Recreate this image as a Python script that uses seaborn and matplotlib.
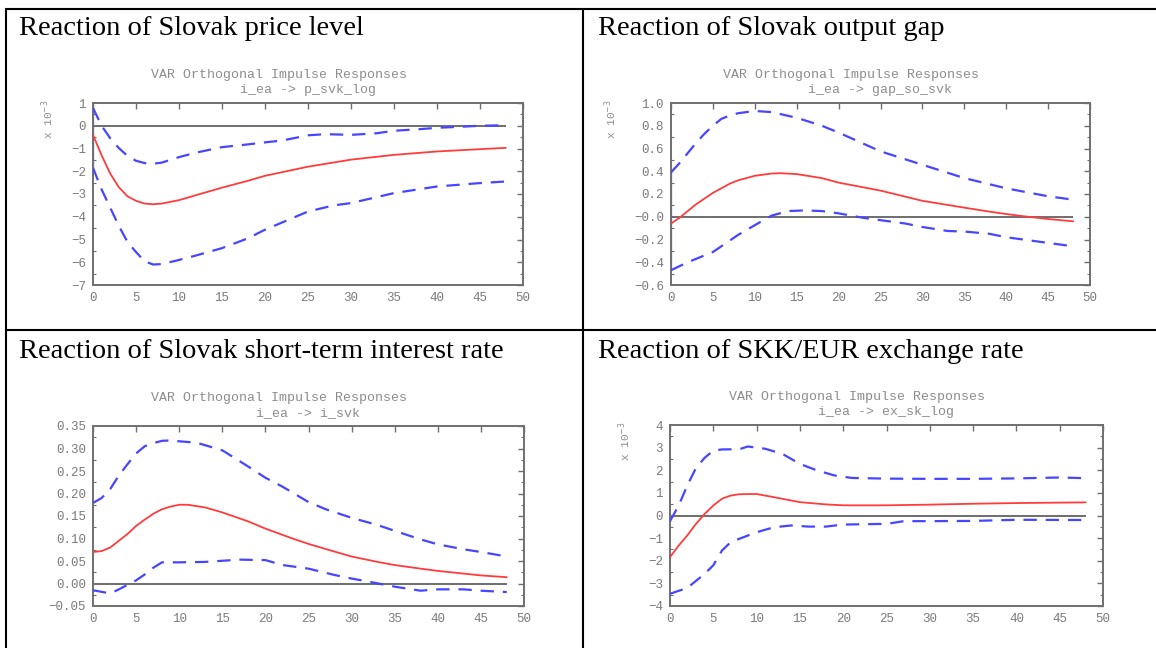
import matplotlib
matplotlib.use('Agg')
import matplotlib.pyplot as plt
from matplotlib.lines import Line2D
from matplotlib.ticker import AutoMinorLocator
import seaborn as sns

# панели таблицы: заголовки и подписи графиков
panel_titles = ['Reaction of Slovak price level', 'Reaction of Slovak output gap',
                'Reaction of Slovak short-term interest rate', 'Reaction of SKK/EUR exchange rate']
var_names = ['i_ea -> p_svk_log', 'i_ea -> gap_so_svk', 'i_ea -> i_svk', 'i_ea -> ex_sk_log']

# 1) цены (x 10^-3)
p_mid_x = [0, 1, 2, 3, 4, 5, 6, 7, 8, 10, 12, 15, 18, 20, 25, 30, 35, 40, 45, 48]
p_mid_y = [-0.4, -1.3, -2.1, -2.7, -3.1, -3.3, -3.42, -3.45, -3.42, -3.27, -3.05, -2.72, -2.42, -2.2, -1.8, -1.49, -1.28, -1.13, -1.03, -0.97]
p_up_x = [0, 1, 2, 3, 4, 5, 6, 7, 8, 10, 12, 15, 18, 20, 22, 25, 27, 30, 33, 35, 38, 40, 43, 45, 48]
p_up_y = [0.78, 0.0, -0.55, -0.98, -1.32, -1.54, -1.64, -1.67, -1.62, -1.38, -1.18, -0.94, -0.82, -0.73, -0.65, -0.42, -0.37, -0.4, -0.33, -0.22, -0.15, -0.09, -0.04, 0.0, 0.02]
p_lo_x = [0, 1, 2, 3, 4, 5, 6, 7, 8, 10, 12, 15, 18, 20, 25, 28, 30, 35, 40, 45, 48]
p_lo_y = [-1.85, -2.8, -3.6, -4.4, -5.1, -5.55, -5.96, -6.1, -6.08, -5.9, -5.7, -5.38, -4.95, -4.57, -3.77, -3.5, -3.4, -2.96, -2.67, -2.52, -2.45]

# 2) разрыв выпуска (x 10^-3)
g_mid_x = [0, 1, 2, 3, 4, 5, 6, 7, 8, 10, 12, 13, 15, 18, 20, 25, 30, 35, 38, 40, 42, 45, 48]
g_mid_y = [-0.06, -0.01, 0.05, 0.11, 0.16, 0.21, 0.25, 0.29, 0.32, 0.36, 0.38, 0.383, 0.375, 0.34, 0.3, 0.23, 0.14, 0.08, 0.045, 0.024, 0.005, -0.02, -0.04]
g_up_x = [0, 1, 2, 3, 4, 5, 6, 7, 8, 10, 12, 15, 18, 20, 25, 30, 35, 40, 45, 48]
g_up_y = [0.39, 0.47, 0.56, 0.65, 0.73, 0.8, 0.86, 0.89, 0.91, 0.93, 0.92, 0.87, 0.8, 0.74, 0.575, 0.457, 0.34, 0.25, 0.18, 0.15]
g_lo_x = [0, 2, 5, 8, 10, 12, 14, 16, 18, 20, 23, 25, 28, 30, 33, 35, 38, 40, 43, 45, 48]
g_lo_y = [-0.47, -0.4, -0.31, -0.16, -0.074, 0.01, 0.05, 0.056, 0.05, 0.03, -0.01, -0.03, -0.06, -0.09, -0.125, -0.13, -0.15, -0.18, -0.21, -0.23, -0.26]

# 3) краткосрочная ставка
i_mid_x = [0, 1, 2, 3, 4, 5, 6, 7, 8, 9, 10, 11, 13, 15, 18, 20, 23, 25, 28, 30, 33, 35, 38, 40, 43, 45, 48]
i_mid_y = [0.07, 0.072, 0.08, 0.095, 0.11, 0.128, 0.142, 0.155, 0.165, 0.171, 0.175, 0.175, 0.169, 0.158, 0.138, 0.122, 0.101, 0.088, 0.071, 0.06, 0.048, 0.041, 0.033, 0.028, 0.022, 0.018, 0.014]
i_up_x = [0, 1, 2, 3, 4, 5, 6, 7, 8, 9, 10, 12, 15, 18, 20, 22, 25, 27, 30, 33, 35, 38, 40, 43, 45, 48]
i_up_y = [0.179, 0.19, 0.21, 0.24, 0.265, 0.289, 0.305, 0.312, 0.317, 0.318, 0.316, 0.313, 0.296, 0.26, 0.235, 0.215, 0.181, 0.165, 0.146, 0.13, 0.117, 0.098, 0.087, 0.076, 0.07, 0.06]
i_lo_x = [0, 2, 3, 4, 5, 6, 7, 8, 10, 13, 17, 20, 22, 25, 28, 30, 32, 35, 38, 40, 43, 45, 48]
i_lo_y = [-0.015, -0.022, -0.013, -0.003, 0.007, 0.02, 0.035, 0.047, 0.047, 0.048, 0.053, 0.052, 0.041, 0.033, 0.019, 0.011, 0.004, -0.007, -0.016, -0.013, -0.013, -0.016, -0.019]

# 4) курс SKK/EUR (x 10^-3)
e_mid_x = [0, 1, 2, 3, 4, 5, 6, 7, 8, 10, 12, 15, 18, 20, 25, 30, 35, 40, 45, 48]
e_mid_y = [-1.84, -1.33, -0.88, -0.37, 0.07, 0.44, 0.74, 0.88, 0.94, 0.95, 0.81, 0.59, 0.49, 0.45, 0.45, 0.48, 0.52, 0.55, 0.57, 0.58]
e_up_x = [0, 1, 2, 3, 4, 5, 6, 8, 9, 11, 13, 15, 17, 19, 21, 25, 30, 35, 40, 45, 48]
e_up_y = [-0.25, 0.44, 1.33, 2.1, 2.55, 2.87, 2.92, 2.93, 3.05, 2.95, 2.72, 2.28, 1.99, 1.77, 1.66, 1.63, 1.62, 1.62, 1.64, 1.68, 1.65]
e_lo_x = [0, 2, 4, 5, 6, 7, 8, 10, 12, 14, 16, 18, 20, 25, 27, 30, 35, 40, 48]
e_lo_y = [-3.46, -3.2, -2.58, -2.2, -1.55, -1.18, -1.03, -0.74, -0.52, -0.44, -0.49, -0.49, -0.4, -0.37, -0.25, -0.25, -0.24, -0.19, -0.2]

# деления осей
p_ticks = [1, 0, -1, -2, -3, -4, -5, -6, -7]
p_labels = ['1', '0', '−1', '−2', '−3', '−4', '−5', '−6', '−7']
g_ticks = [1.0, 0.8, 0.6, 0.4, 0.2, 0.0, -0.2, -0.4, -0.6]
g_labels = ['1.0', '0.8', '0.6', '0.4', '0.2', '−0.0', '−0.2', '−0.4', '−0.6']
i_ticks = [0.35, 0.30, 0.25, 0.20, 0.15, 0.10, 0.05, 0.00, -0.05]
i_labels = ['0.35', '0.30', '0.25', '0.20', '0.15', '0.10', '0.05', '0.00', '−0.05']
e_ticks = [4, 3, 2, 1, 0, -1, -2, -3, -4]
e_labels = ['4', '3', '2', '1', '0', '−1', '−2', '−3', '−4']
x_ticks = [0, 5, 10, 15, 20, 25, 30, 35, 40, 45, 50]

sns.set_style('white')
plt.rcParams['font.family'] = ['Liberation Mono', 'DejaVu Sans Mono']

fig = plt.figure(figsize=(11.56, 6.48), dpi=100)

W, H = 1156, 648


def px_axes(x0, x1, y0, y1):
    return fig.add_axes([x0 / W, 1 - y1 / H, (x1 - x0) / W, (y1 - y0) / H])


panels = [
    dict(box=(93, 523, 103, 285), mid=(p_mid_x, p_mid_y), up=(p_up_x, p_up_y), lo=(p_lo_x, p_lo_y),
         ticks=p_ticks, labels=p_labels, scale=True, sc_off=-45, vbar=True),
    dict(box=(671, 1090, 103, 285), mid=(g_mid_x, g_mid_y), up=(g_up_x, g_up_y), lo=(g_lo_x, g_lo_y),
         ticks=g_ticks, labels=g_labels, scale=True, sc_off=-60, vbar=True),
    dict(box=(93, 524, 426, 606), mid=(i_mid_x, i_mid_y), up=(i_up_x, i_up_y), lo=(i_lo_x, i_lo_y),
         ticks=i_ticks, labels=i_labels, scale=False, sc_off=0, vbar=False),
    dict(box=(670, 1103, 425, 606), mid=(e_mid_x, e_mid_y), up=(e_up_x, e_up_y), lo=(e_lo_x, e_lo_y),
         ticks=e_ticks, labels=e_labels, scale=True, sc_off=-45, vbar=False),
]

red = '#ff3b3b'
blue = '#4646ff'
frame = '#6f6f6f'

for k, pnl in enumerate(panels):
    ax = px_axes(*pnl['box'])
    ux, uy = pnl['up']
    lx, ly = pnl['lo']
    mx, my = pnl['mid']

    ax.hlines(0, mx[0], mx[-1], color='#6e6e6e', lw=1.4, zorder=1)
    if pnl['vbar']:
        ax.plot([ux[0], lx[0]], [uy[0], ly[0]], color=blue, lw=1.6, zorder=2)
    sns.lineplot(x=ux, y=uy, ax=ax, color=blue, lw=1.6, linestyle=(0, (6, 4)), zorder=3)
    sns.lineplot(x=lx, y=ly, ax=ax, color=blue, lw=1.6, linestyle=(0, (6, 4)), zorder=3)
    sns.lineplot(x=mx, y=my, ax=ax, color=red, lw=1.3, zorder=4)

    ax.set_xlim(0, 50)
    ax.set_ylim(min(pnl['ticks']), max(pnl['ticks']))
    ax.set_xticks(x_ticks)
    ax.set_yticks(pnl['ticks'], pnl['labels'])
    ax.yaxis.set_minor_locator(AutoMinorLocator(2))
    ax.tick_params(which='major', direction='in', length=4, width=1, color=frame, labelcolor='#7a7a7a',
                   labelsize=9, top=True, right=True, pad=5)
    ax.tick_params(which='minor', direction='in', length=2.5, width=0.8, color=frame, right=True, left=True)
    for s in ax.spines.values():
        s.set_color(frame)
        s.set_linewidth(1.4)

    ax.annotate('VAR Orthogonal Impulse Responses', xy=(0.5, 1), xycoords='axes fraction',
                xytext=(-21, 20.5), textcoords='offset points', ha='center', va='center',
                fontsize=9.5, color='#8c8c8c')
    ax.annotate(var_names[k], xy=(0.5, 1), xycoords='axes fraction',
                xytext=(0, 9), textcoords='offset points', ha='center', va='center',
                fontsize=9.5, color='#8c8c8c')
    if pnl['scale']:
        ax.annotate(r'x 10$^{-3}$', xy=(0, 1), xycoords='axes fraction',
                    xytext=(pnl['sc_off'] * 0.72, -12), textcoords='offset points',
                    ha='center', va='center', rotation=90, fontsize=8, color='#8c8c8c')

# рамка таблицы
border = dict(color='black', lw=1.5, transform=fig.transFigure)
fig.add_artist(Line2D([5.5 / W, 1], [1 - 9 / H, 1 - 9 / H], **border))
fig.add_artist(Line2D([5.5 / W, 1], [1 - 330 / H, 1 - 330 / H], **border))
fig.add_artist(Line2D([5.5 / W, 5.5 / W], [0, 1 - 9 / H], **border))
fig.add_artist(Line2D([583 / W, 583 / W], [0, 1 - 9 / H], **border))

# заголовки ячеек
title_pos = [(19, 35), (598, 35), (19, 358), (598, 358)]
for t, (tx, ty) in zip(panel_titles, title_pos):
    fig.text(tx / W, 1 - ty / H, t, fontsize=20.5, family=['Liberation Serif', 'DejaVu Serif'],
             va='baseline', ha='left', color='black')

fig.savefig('out.png', dpi=100)
